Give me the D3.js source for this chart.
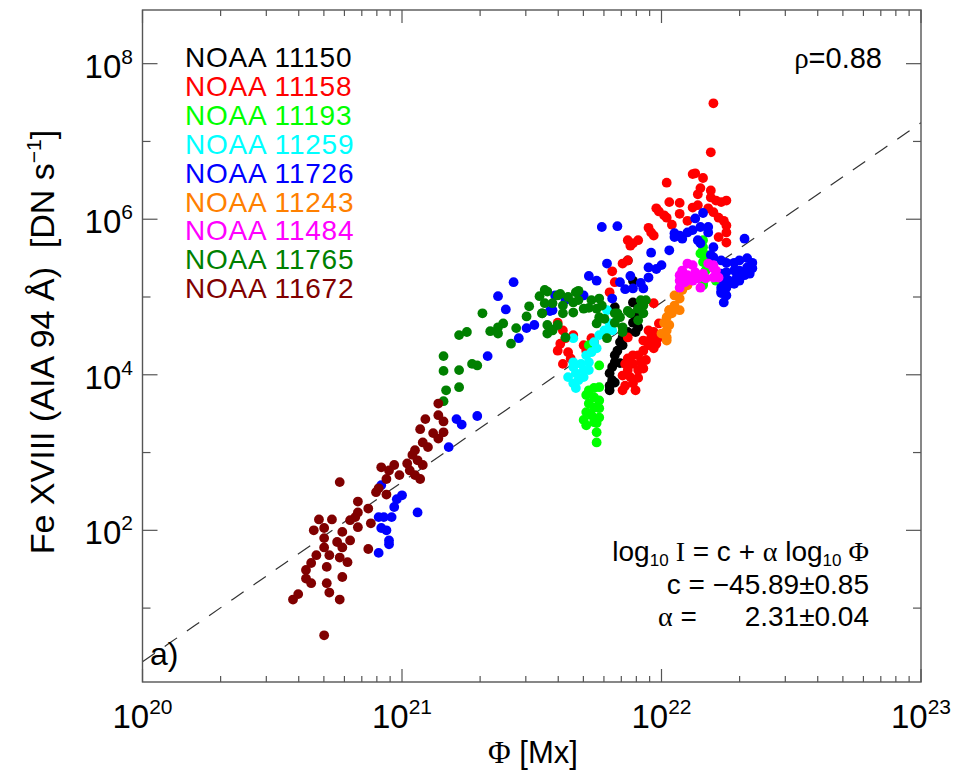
<!DOCTYPE html>
<html><head><meta charset="utf-8">
<script src="https://cdn.jsdelivr.net/npm/d3@7"></script>
<style>body{margin:0;background:#fff} svg{display:block}</style>
</head><body><svg id="c" width="955" height="778"></svg>
<script>
// ---- data: each point is [log10 Phi (Mx), log10 I (DN/s)] ----
const regionNames = ["NOAA 11150","NOAA 11158","NOAA 11193","NOAA 11259","NOAA 11726","NOAA 11243","NOAA 11484","NOAA 11765","NOAA 11672"];
const regionColors = ["#000000","#ff0000","#00ff00","#00ffff","#0000ff","#ff8000","#ff00ff","#008000","#800000"];

const ar11150 = [[21.89,4.93],[21.91,4.85],[21.90,4.76],[21.89,4.67],[21.91,4.61],[21.90,4.55],[21.87,4.55],[21.85,4.48],[21.84,4.42],[21.85,4.38],[21.83,4.31],[21.82,4.25],[21.82,4.16],[21.81,4.10],[21.80,4.02],[21.81,3.93],[21.80,3.86],[21.80,3.80],[21.82,3.90],[21.84,4.15],[21.82,4.87],[21.87,5.47],[21.89,5.21]];
const ar11158 = [[22.20,7.49],[22.19,6.86],[22.12,6.58],[22.13,6.59],[22.16,6.53],[22.02,6.47],[22.15,6.40],[22.14,6.32],[22.19,6.37],[22.19,6.28],[22.21,6.24],[22.25,6.24],[22.23,6.22],[22.03,6.22],[22.07,6.21],[21.98,6.14],[21.99,6.10],[22.01,6.05],[22.02,6.02],[22.07,6.07],[22.12,6.15],[22.14,6.18],[22.18,6.14],[22.20,6.09],[22.22,6.02],[22.24,5.98],[22.25,5.92],[22.25,5.83],[22.25,5.70],[22.22,5.77],[22.04,5.93],[22.10,5.98],[21.95,5.89],[21.96,5.83],[21.97,5.79],[21.87,5.73],[21.89,5.69],[21.91,5.73],[21.88,5.66],[21.85,5.43],[21.87,5.47],[21.81,5.33],[21.82,5.19],[21.80,5.06],[21.97,4.92],
  [21.61,4.40],[21.63,4.47],[21.66,4.51],[21.60,4.31],[21.64,4.29],[21.65,4.21],[21.62,4.14],[21.70,4.38],[21.71,4.31],[21.73,4.47],[21.74,4.42],[21.87,4.48],[21.60,4.67],[21.62,4.57],
  [21.95,4.57],[21.97,4.55],[21.96,4.48],[21.93,4.44],[21.95,4.38],[21.97,4.34],[21.93,4.31],[21.91,4.25],[21.89,4.25],[21.87,4.21],[21.86,4.14],[21.89,4.14],[21.92,4.16],[21.94,4.19],[21.93,4.08],[21.91,4.06],[21.87,4.06],[21.85,3.99],[21.88,3.97],[21.91,3.96],[21.89,3.89],[21.86,3.86],[21.90,3.80],[21.85,3.80],[21.99,4.48],[21.98,4.40],[21.99,4.66]];
const ar11193 = [[21.72,4.38],[21.76,4.12],[21.72,3.80],[21.74,3.83],[21.76,3.84],[21.71,3.74],[21.74,3.71],[21.76,3.67],[21.72,3.63],[21.74,3.58],[21.76,3.57],[21.71,3.52],[21.73,3.48],[21.76,3.45],[21.70,3.42],[21.74,3.39],[21.71,3.35],[21.75,3.38],[21.75,3.26],[21.75,3.13],
  [22.16,5.73],[22.16,5.64],[22.17,5.54],[22.16,5.45],[22.17,5.34],[22.17,5.24],[22.16,5.15],[22.19,5.45],[22.15,5.56],[22.21,5.21],[22.16,5.18]];
const ar11259 = [[21.79,4.83],[21.80,4.66],[21.78,4.57],[21.76,4.51],[21.74,4.42],[21.75,4.34],[21.73,4.29],[21.71,4.25],[21.72,4.16],[21.69,4.14],[21.66,4.10],[21.66,4.16],[21.70,4.06],[21.67,4.02],[21.64,3.97],[21.68,3.93],[21.66,3.89],[21.67,3.83],[21.70,3.97],[21.72,4.06],[21.66,4.47],[21.81,4.57]];
const ar11726 = [[21.21,3.43],[21.18,3.07],[21.29,3.47],[21.23,3.36],[21.00,2.45],[20.98,2.40],[20.97,2.30],[21.06,2.23],[20.91,2.17],[20.93,2.17],[20.96,2.17],[20.92,2.03],[20.94,2.00],[20.95,1.87],[20.95,1.82],[20.91,1.71],[20.92,2.58],
  [21.43,5.19],[21.37,5.01],[21.40,4.84],[21.59,5.02],[21.57,4.82],[21.48,4.60],[21.51,4.64],[21.45,4.47],[21.33,4.24],
  [21.77,5.90],[21.83,5.91],[21.96,5.57],[22.03,5.60],[21.79,5.43],[21.72,5.27],[21.75,5.21],[21.84,5.19],[21.88,5.27],[21.92,5.18],[21.86,5.10],[21.89,5.11],[21.93,5.11],[21.81,4.98],[21.95,5.38],[21.98,5.36],[22.00,5.41],[21.95,5.25],[21.70,5.02],[21.58,4.83],[21.63,4.96],
  [22.13,6.01],[22.16,6.08],[22.15,5.90],[22.18,5.90],[22.12,5.86],[22.10,5.83],[22.07,5.79],[22.05,5.82],[22.05,5.77],[22.08,5.75],[22.14,5.73],[22.18,5.83],[22.15,5.69],[22.20,5.64],[22.32,5.75],[22.20,5.51],[22.19,5.54],
  [22.23,5.47],[22.25,5.44],[22.28,5.44],[22.30,5.47],[22.33,5.50],[22.35,5.44],[22.35,5.37],[22.33,5.38],[22.30,5.34],[22.28,5.34],[22.25,5.32],[22.23,5.30],[22.24,5.21],[22.26,5.21],[22.29,5.25],[22.30,5.21],[22.28,5.17],[22.25,5.12],[22.23,5.12],[22.23,5.05],[22.25,5.02],[22.24,4.93],[22.23,5.07],[22.34,5.30],[22.32,5.28],[22.33,5.32]];
const ar11243 = [[22.07,4.98],[22.05,4.89],[22.03,4.83],[22.04,4.79],[22.02,4.74],[22.01,4.67],[22.03,4.64],[22.02,4.57],[22.00,4.53],[22.02,4.48],[22.02,4.44],[22.05,5.02],[22.08,5.09],[22.10,5.15],[22.03,4.83],[22.07,4.83]];
const ar11484 = [[22.10,5.43],[22.12,5.41],[22.08,5.34],[22.07,5.28],[22.10,5.28],[22.13,5.32],[22.16,5.30],[22.18,5.43],[22.20,5.41],[22.21,5.34],[22.22,5.25],[22.20,5.25],[22.17,5.24],[22.14,5.24],[22.12,5.21],[22.09,5.19],[22.07,5.21],[22.07,5.12],[22.15,5.12],[22.20,5.37]];
const ar11765 = [[21.16,4.24],[21.16,4.05],[21.22,4.06],[21.17,3.80],[21.22,3.84],[21.27,4.14],[21.29,4.12],[21.22,4.51],[21.25,4.55],[21.31,4.79],[21.34,4.56],[21.37,4.61],[21.39,4.66],[21.37,4.53],[21.42,4.40],[21.44,4.60],[21.48,4.75],[21.49,4.88],[21.53,5.01],[21.56,5.07],[21.55,4.92],[21.54,4.79],[21.56,4.64],[21.56,4.53],[21.58,4.58],
  [21.55,5.09],[21.60,5.02],[21.64,5.00],[21.67,5.06],[21.68,4.96],[21.62,4.89],[21.58,4.92],[21.54,4.79],[21.62,4.79],[21.66,4.80],[21.70,4.85],[21.73,4.96],[21.75,4.85],[21.77,4.89],[21.76,4.74],[21.78,4.72],[21.75,4.66],[21.82,4.67],[21.84,4.74],[21.85,4.61],[21.88,4.79],[21.91,4.85],[21.93,4.89],[21.93,4.79],[21.91,4.70],[21.94,4.96],
  [21.58,4.57],[21.60,4.64],[21.63,4.48],[21.79,4.47],[21.85,4.55],[21.82,4.79],[21.61,5.04],[21.68,5.08],[21.76,4.98],[21.72,4.86],[21.66,4.93],[21.92,4.96],[21.87,4.82],[21.83,4.79],[21.16,3.66]];
const ar11672 = [[21.14,3.63],[21.14,3.48],[21.09,3.43],[21.16,3.40],[21.07,3.30],[21.12,3.25],[21.16,3.26],[21.14,3.18],[21.08,3.13],[21.10,3.07],[21.05,3.03],[21.04,2.97],[21.06,2.90],[21.08,2.84],[21.02,2.86],[20.97,2.84],[20.92,2.81],[20.95,2.77],[20.99,2.71],[21.03,2.77],[21.05,2.71],[21.07,2.66],[20.94,2.66],[20.76,2.62],[20.91,2.54],[20.90,2.49],[20.94,2.46],[20.83,2.37],[20.87,2.28],[20.83,2.23],[20.82,2.17],[20.68,2.14],[20.73,2.14],[20.80,2.13],[20.83,2.04],[20.77,1.98],[20.88,2.09],[20.66,2.00],[20.70,2.03],[20.70,1.90],[20.75,1.85],[20.80,1.87],[20.77,1.78],[20.70,1.78],[20.67,1.68],[20.72,1.68],[20.76,1.65],[20.79,1.59],[20.71,1.53],[20.65,1.58],[20.63,1.49],[20.63,1.38],[20.65,1.32],[20.77,1.40],[20.71,1.32],[20.72,1.20],[20.60,1.18],[20.58,1.11],[20.76,1.11],[20.70,0.65],[20.87,1.76]];

const seriesData = [ar11150, ar11158, ar11193, ar11259, ar11726, ar11243, ar11484, ar11765, ar11672];

const xMajorExp = [20, 21, 22, 23];
const yMajorExp = [2, 4, 6, 8];
const yMinorExp = [1, 3, 5, 7];
const fitC = -45.89, fitAlpha = 2.31;
const rhoText = "0.88";

// ---- layout ----
const svg = d3.select("#c");
const L = 142.5, R = 921, T = 10, B = 682;
const x = d3.scaleLog().domain([1e20, 1e23]).range([L, R]);
const y = d3.scaleLog().domain([Math.pow(10, 0.05), Math.pow(10, 8.69)]).range([B, T]);
const SANS = "'Liberation Sans', Arial, Helvetica, sans-serif";
const SERIF = "'Liberation Serif', 'Times New Roman', serif";
const axisColor = "#555";

svg.append("defs").append("clipPath").attr("id", "clip")
  .append("rect").attr("x", L).attr("y", T).attr("width", R - L).attr("height", B - T);

// fit line
const fitPts = d3.range(20, 23.001, 0.05).map(e => [Math.pow(10, e), Math.pow(10, fitC + fitAlpha * e)]);
svg.append("path").attr("clip-path", "url(#clip)")
  .attr("d", d3.line().x(d => x(d[0])).y(d => y(d[1]))(fitPts))
  .attr("fill", "none").attr("stroke", "#333").attr("stroke-width", 1.2)
  .attr("stroke-dasharray", "15,12");

// points
seriesData.forEach((arr, i) => {
  svg.append("g").selectAll("circle").data(arr).join("circle")
    .attr("cx", d => x(Math.pow(10, d[0])))
    .attr("cy", d => y(Math.pow(10, d[1])))
    .attr("r", 4.9)
    .attr("fill", regionColors[i]);
});

// frame
svg.append("rect").attr("x", L).attr("y", T).attr("width", R - L).attr("height", B - T)
  .attr("fill", "none").attr("stroke", axisColor).attr("stroke-width", 1.4);

const tg = svg.append("g").attr("stroke", axisColor).attr("stroke-width", 1.2);
const xMinor = [];
[20, 21, 22].forEach(e => { for (let k = 2; k <= 9; k++) xMinor.push(k * Math.pow(10, e)); });
xMajorExp.forEach(e => {
  const px = x(Math.pow(10, e));
  tg.append("line").attr("x1", px).attr("x2", px).attr("y1", B).attr("y2", B - 13);
  tg.append("line").attr("x1", px).attr("x2", px).attr("y1", T).attr("y2", T + 13);
});
xMinor.forEach(v => {
  const px = x(v);
  tg.append("line").attr("x1", px).attr("x2", px).attr("y1", B).attr("y2", B - 6);
  tg.append("line").attr("x1", px).attr("x2", px).attr("y1", T).attr("y2", T + 6);
});
yMajorExp.forEach(e => {
  const py = y(Math.pow(10, e));
  tg.append("line").attr("x1", L).attr("x2", L + 15).attr("y1", py).attr("y2", py);
  tg.append("line").attr("x1", R).attr("x2", R - 15).attr("y1", py).attr("y2", py);
});
yMinorExp.forEach(e => {
  const py = y(Math.pow(10, e));
  tg.append("line").attr("x1", L).attr("x2", L + 8).attr("y1", py).attr("y2", py);
  tg.append("line").attr("x1", R).attr("x2", R - 8).attr("y1", py).attr("y2", py);
});

// tick labels
xMajorExp.forEach(e => {
  const t = svg.append("text").attr("x", x(Math.pow(10, e))).attr("y", 728)
    .attr("text-anchor", "middle").attr("font-family", SANS).attr("font-size", 33).attr("fill", "#000");
  t.append("tspan").text("10");
  t.append("tspan").attr("dy", -14).attr("font-size", 21).text(e);
});
yMajorExp.forEach(e => {
  const t = svg.append("text").attr("x", 133).attr("y", y(Math.pow(10, e)) + 14)
    .attr("text-anchor", "end").attr("font-family", SANS).attr("font-size", 33).attr("fill", "#000");
  t.append("tspan").text("10");
  t.append("tspan").attr("dy", -14).attr("font-size", 21).text(e);
});

// axis titles
const xt = svg.append("text").attr("x", 533).attr("y", 763).attr("text-anchor", "middle")
  .attr("font-family", SANS).attr("font-size", 31).attr("fill", "#000");
xt.append("tspan").attr("font-family", SERIF).text("Φ");
xt.append("tspan").text("\u00a0[Mx]");

const yt = svg.append("text").attr("transform", "translate(54,342) rotate(-90)")
  .attr("text-anchor", "middle").attr("font-family", SANS).attr("font-size", 34).attr("fill", "#000");
yt.append("tspan").text("Fe XVIII (AIA 94 Å)\u00a0\u00a0[DN s");
yt.append("tspan").attr("dy", -13).attr("font-size", 21).text("−1");
yt.append("tspan").attr("dy", 13).text("]");

// legend
regionNames.forEach((n, i) => {
  svg.append("text").attr("x", 185).attr("y", 67 + i * 28.9)
    .attr("font-family", SANS).attr("font-size", 28).attr("letter-spacing", 0.8)
    .attr("fill", regionColors[i]).text(n);
});

// rho
const rt = svg.append("text").attr("x", 882).attr("y", 68).attr("text-anchor", "end")
  .attr("font-family", SANS).attr("font-size", 29).attr("fill", "#000");
rt.append("tspan").attr("font-family", SERIF).text("ρ");
rt.append("tspan").text("=" + rhoText);

// fit formula
const f1 = svg.append("text").attr("x", 869).attr("y", 561).attr("text-anchor", "end")
  .attr("font-family", SANS).attr("font-size", 28).attr("fill", "#000");
f1.append("tspan").text("log");
f1.append("tspan").attr("dy", 5).attr("font-size", 17).text("10");
f1.append("tspan").attr("dy", -5).attr("font-family", SERIF).text("\u00a0I");
f1.append("tspan").text("\u00a0= c +\u00a0");
f1.append("tspan").attr("font-family", SERIF).text("α");
f1.append("tspan").text("\u00a0log");
f1.append("tspan").attr("dy", 5).attr("font-size", 17).text("10");
f1.append("tspan").attr("dy", -5).attr("font-family", SERIF).text("\u00a0Φ");

svg.append("text").attr("x", 869).attr("y", 594).attr("text-anchor", "end")
  .attr("font-family", SANS).attr("font-size", 28).attr("fill", "#000")
  .text("c = −" + Math.abs(fitC).toFixed(2) + "±0.85");
const a1 = svg.append("text").attr("x", 658).attr("y", 626)
  .attr("font-family", SANS).attr("font-size", 28).attr("fill", "#000");
a1.append("tspan").attr("font-family", SERIF).text("α");
a1.append("tspan").text(" =");
svg.append("text").attr("x", 869).attr("y", 626).attr("text-anchor", "end")
  .attr("font-family", SANS).attr("font-size", 28).attr("fill", "#000")
  .text(fitAlpha.toFixed(2) + "±0.04");

// panel label
svg.append("text").attr("x", 150).attr("y", 665)
  .attr("font-family", SANS).attr("font-size", 32).attr("fill", "#000").text("a)");
</script></body></html>
